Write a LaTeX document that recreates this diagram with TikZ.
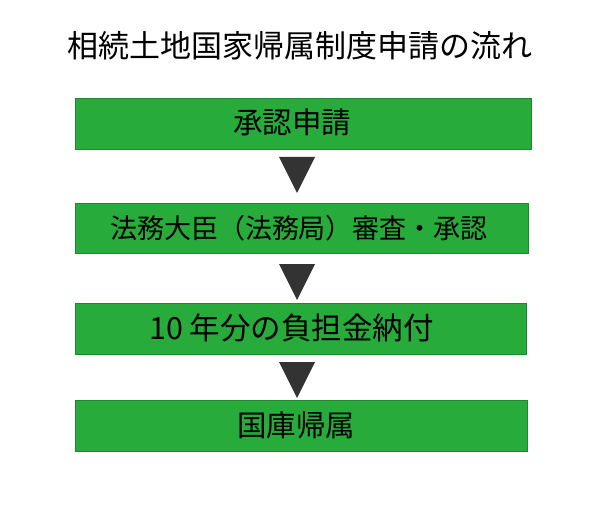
\documentclass[tikz,border=0pt]{standalone}
\usepackage{fontspec}
\newfontfamily\jp{Noto Sans CJK JP}
\definecolor{boxgreen}{RGB}{39,171,58}
\definecolor{boxedge}{RGB}{30,135,45}
\definecolor{tri}{RGB}{51,51,51}
\tikzset{
  stepbox/.style={draw=boxedge, line width=0.8pt, fill=boxgreen},
  boxtext/.style={font=\jp\fontsize{29.5}{32}\selectfont, text=black, inner sep=0pt},
  arrowtri/.style={fill=tri, draw=none},
}
\begin{document}
\begin{tikzpicture}[x=1pt,y=-1pt]
\useasboundingbox (0,0) rectangle (600,516);
\node[font=\jp\fontsize{31}{34}\selectfont, inner sep=0pt] (title) at (299.5,46) {相続土地国家帰属制度申請の流れ};
% boxes
\draw[stepbox] (75,98) rectangle (531,149);
\node[boxtext] (b1) at (292,122) {承認申請};
\draw[stepbox] (75,203) rectangle (528,253);
\node[boxtext, font=\jp\fontsize{27}{30}\selectfont] (b2) at (299,228) {法務大臣（法務局）審査・承認};
\draw[stepbox] (75,303) rectangle (526,354);
\node[boxtext, font=\jp\fontsize{30.5}{33}\selectfont] (b3) at (291.5,328) {10 年分の負担金納付};
\draw[stepbox] (75,400) rectangle (527,451);
\node[boxtext] (b4) at (296,425) {国庫帰属};
% triangles
\fill[arrowtri] (279,157) -- (315,157) -- (297,193) -- cycle;
\fill[arrowtri] (279,264) -- (315,264) -- (297,300) -- cycle;
\fill[arrowtri] (279,362) -- (315,362) -- (297,398) -- cycle;
\end{tikzpicture}
\end{document}
